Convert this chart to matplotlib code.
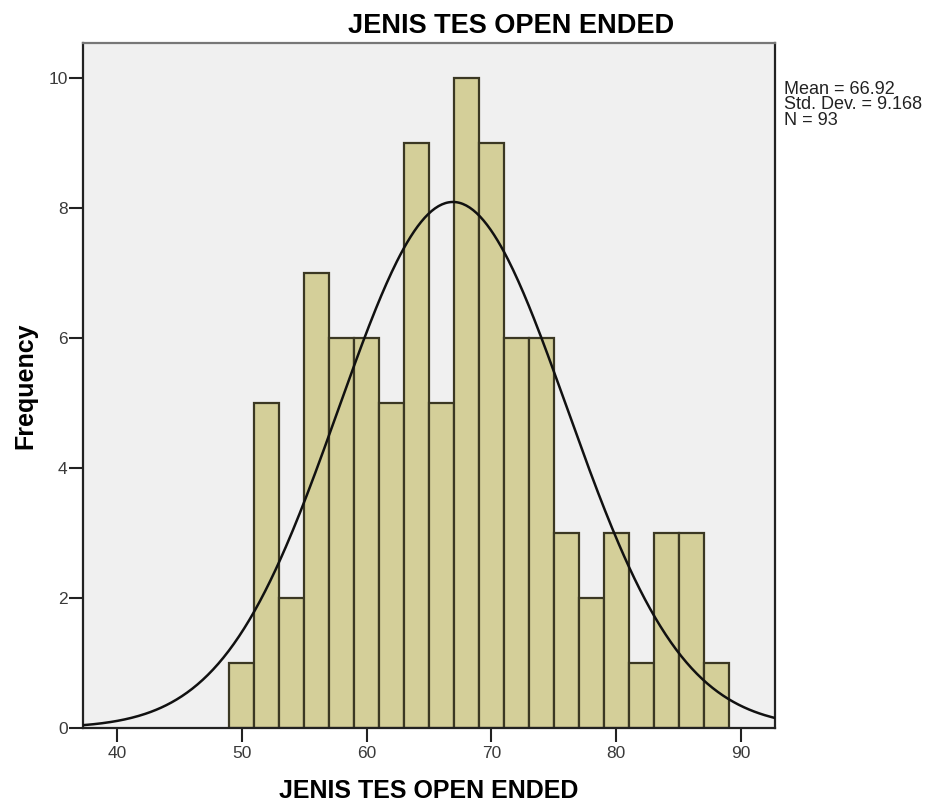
import numpy as np
import matplotlib
matplotlib.use("Agg")
import matplotlib.pyplot as plt

# histogram bins (width 2) and counts
bin_edges = [49, 51, 53, 55, 57, 59, 61, 63, 65, 67, 69, 71, 73, 75, 77, 79, 81, 83, 85, 87, 89]
counts = [1, 5, 2, 7, 6, 6, 5, 9, 5, 10, 9, 6, 6, 3, 2, 3, 1, 3, 3, 1]

# summary statistics shown next to the plot
mean = 66.92
std_dev = 9.168
n = 93

plt.rcParams['font.family'] = ['Liberation Sans', 'DejaVu Sans']

fig = plt.figure(figsize=(9.3, 8.08), dpi=100)
ax = fig.add_axes([0.0892, 0.099, 0.7441, 0.8478])
ax.set_facecolor('#f0f0f0')

lefts = np.array(bin_edges[:-1])
widths = np.diff(bin_edges)
ax.bar(lefts, counts, width=widths, align='edge', color='#d4cf99',
       edgecolor='#3b3823', linewidth=1.6, zorder=2)

# normal curve from mean / std dev / N, scaled to the bin width
xmin, xmax = 37.28, 92.72
xs = np.linspace(xmin, xmax, 400)
bw = widths[0]
ys = n * bw / (std_dev * np.sqrt(2 * np.pi)) * np.exp(-0.5 * ((xs - mean) / std_dev) ** 2)
ax.plot(xs, ys, color='#111111', linewidth=1.8, zorder=3)

ax.set_xlim(xmin, xmax)
ax.set_ylim(0, 10.54)
ax.set_xticks([40, 50, 60, 70, 80, 90])
ax.set_yticks([0, 2, 4, 6, 8, 10])
ax.tick_params(direction='out', length=10, width=1.5, colors='#222222',
               labelsize=12.5, labelcolor='#3a3a3a')
ax.tick_params(axis='x', pad=3)
ax.tick_params(axis='y', pad=1)
for s in ax.spines.values():
    s.set_linewidth(1.6)
    s.set_color('#222222')
ax.spines['top'].set_color('#777777')

# SPSS centres the title over the whole chart incl. the stats box
ax.set_title('JENIS TES OPEN ENDED', fontsize=19.5, fontweight='bold', pad=7, x=0.618)
ax.set_xlabel('JENIS TES OPEN ENDED', fontsize=18, fontweight='bold', labelpad=13)
ax.set_ylabel('Frequency', fontsize=18, fontweight='bold', labelpad=8)

fig.text(0.843, 0.9, f'Mean = {mean}\nStd. Dev. = {std_dev}\nN = {n}',
         fontsize=13, color='#222222', va='top', ha='left', linespacing=0.88)

fig.savefig('out.png', dpi=100, facecolor='white')
